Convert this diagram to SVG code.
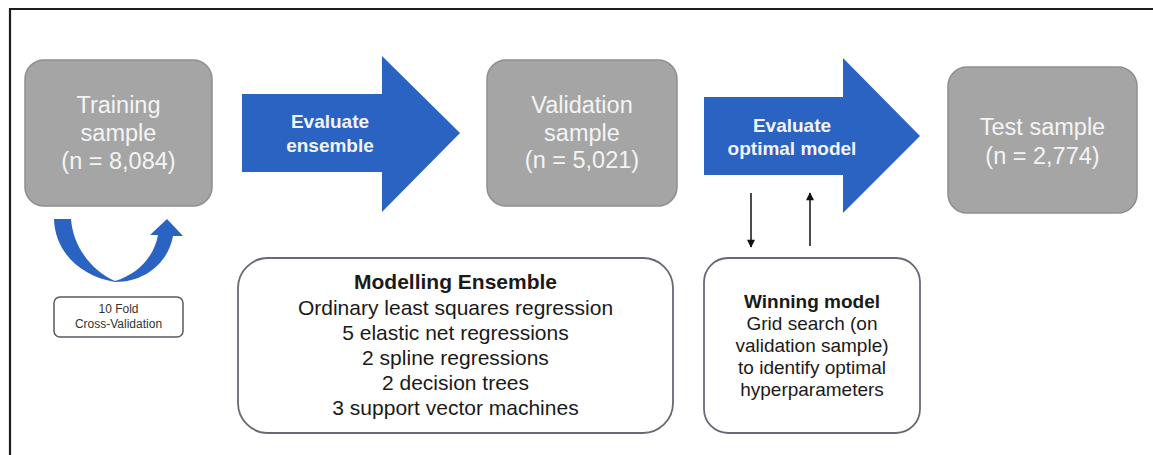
<svg xmlns="http://www.w3.org/2000/svg" width="1153" height="455" viewBox="0 0 1153 455">
<defs>
<style>
.frame{stroke:#1e1e1e;stroke-width:2.2;fill:none}
.sample{fill:#a5a5a5;stroke:#8e8e8e;stroke-width:1.5}
.stxt{font-family:"Liberation Sans",Arial,sans-serif;font-size:23.5px;fill:#f4f4f4;text-anchor:middle}
.blue{fill:#2a63c2}
.btxt{font-family:"Liberation Sans",Arial,sans-serif;font-size:19px;font-weight:bold;fill:#f2f4fa;text-anchor:middle}
.info{fill:#ffffff;stroke:#676a73;stroke-width:1.8}
.itxt{font-family:"Liberation Sans",Arial,sans-serif;fill:#1a1a1a;text-anchor:middle}
.small{font-family:"Liberation Sans",Arial,sans-serif;font-size:12px;fill:#333333;text-anchor:middle}
.conn{stroke:#111;stroke-width:1.5;fill:none}
</style>
<marker id="ah" viewBox="0 0 10 10" refX="9" refY="5" markerWidth="9" markerHeight="8" markerUnits="userSpaceOnUse" orient="auto">
<path d="M0 0 L10 5 L0 10 Z" fill="#111"/>
</marker>
</defs>
<rect width="1153" height="455" fill="#ffffff"/>
<path class="frame" d="M10 455 L10 9 L1153 9"/>

<g id="training">
<rect class="sample" x="25" y="60" width="187" height="146" rx="19"/>
<text class="stxt" x="118.5" y="113">Training</text>
<text class="stxt" x="118.5" y="141">sample</text>
<text class="stxt" x="118.5" y="169">(n = 8,084)</text>
</g>

<g id="cv-loop">
<path class="blue" d="M54 219 L71 219 C73 247 92 271 115 281 C136 275 154 258 158 235 L150 235 L167 219 L183 236 L173 236 C168 263 145 282 115 282 C80 276 55 252 54 219 Z"/>
</g>

<g id="cv-label">
<rect x="54" y="297" width="129" height="40" rx="6" fill="#ffffff" stroke="#555a63" stroke-width="1.5"/>
<text class="small" x="118.5" y="313">10 Fold</text>
<text class="small" x="118.5" y="328">Cross-Validation</text>
</g>

<g id="evaluate-ensemble">
<polygon class="blue" points="242,94 382,94 382,56 460,133 382,212 382,172 242,172"/>
<text class="btxt" x="330" y="128">Evaluate</text>
<text class="btxt" x="330" y="152">ensemble</text>
</g>

<g id="validation">
<rect class="sample" x="487" y="60" width="190" height="146" rx="19"/>
<text class="stxt" x="582" y="113">Validation</text>
<text class="stxt" x="582" y="141">sample</text>
<text class="stxt" x="582" y="168">(n = 5,021)</text>
</g>

<g id="evaluate-optimal">
<polygon class="blue" points="704,97 843,97 843,58 920,136 843,213 843,175 704,175"/>
<text class="btxt" x="792" y="132">Evaluate</text>
<text class="btxt" x="792" y="155">optimal model</text>
</g>

<g id="test">
<rect class="sample" x="948" y="67" width="189" height="146" rx="19"/>
<text class="stxt" x="1042.5" y="135">Test sample</text>
<text class="stxt" x="1042.5" y="164">(n = 2,774)</text>
</g>

<g id="ensemble">
<rect class="info" x="238" y="258" width="435" height="175" rx="30"/>
<text class="itxt" x="455.5" y="289" font-size="21" font-weight="bold">Modelling Ensemble</text>
<text class="itxt" x="455.5" y="315" font-size="21">Ordinary least squares regression</text>
<text class="itxt" x="455.5" y="340" font-size="21">5 elastic net regressions</text>
<text class="itxt" x="455.5" y="365" font-size="21">2 spline regressions</text>
<text class="itxt" x="455.5" y="390" font-size="21">2 decision trees</text>
<text class="itxt" x="455.5" y="415" font-size="21">3 support vector machines</text>
</g>

<g id="winning">
<rect class="info" x="704" y="258" width="216" height="175" rx="24"/>
<text class="itxt" x="812" y="308" font-size="19" font-weight="bold">Winning model</text>
<text class="itxt" x="812" y="330" font-size="19">Grid search (on</text>
<text class="itxt" x="812" y="352" font-size="19">validation sample)</text>
<text class="itxt" x="812" y="374" font-size="19">to identify optimal</text>
<text class="itxt" x="812" y="396" font-size="19">hyperparameters</text>
</g>

<g id="connectors">
<line class="conn" x1="751" y1="193" x2="751" y2="247" marker-end="url(#ah)"/>
<line class="conn" x1="810" y1="246" x2="810" y2="193" marker-end="url(#ah)"/>
</g>
</svg>
